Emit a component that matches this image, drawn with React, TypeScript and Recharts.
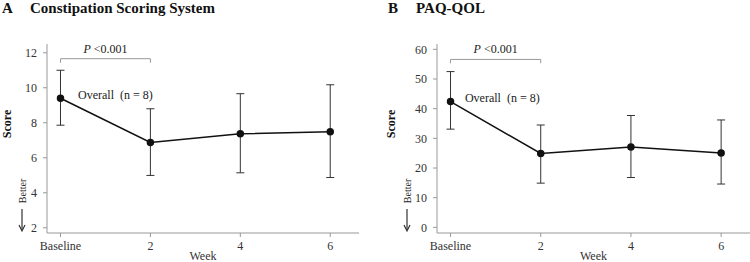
import { LineChart, Line, XAxis, YAxis, ErrorBar, ReferenceLine, ReferenceDot } from "recharts"

const FONT = '"Liberation Serif", "Times New Roman", serif'

const weeks = [0, 2, 4, 6]
const weekLabels = ["Baseline", "2", "4", "6"]

const cssMean = [9.4, 6.87, 7.37, 7.49]
const cssLow = [7.86, 4.99, 5.14, 4.87]
const cssHigh = [11.0, 8.8, 9.66, 10.17]
const cssTicks = [2, 4, 6, 8, 10, 12]

const paqMean = [42.4, 24.9, 27.1, 25.1]
const paqLow = [33.1, 14.9, 16.8, 14.6]
const paqHigh = [52.5, 34.5, 37.7, 36.2]
const paqTicks = [0, 10, 20, 30, 40, 50, 60]

const build = (mean: number[], low: number[], high: number[]) =>
    weeks.map((w, i) => ({ week: w, score: mean[i], err: [mean[i] - low[i], high[i] - mean[i]] }))

const cssData = build(cssMean, cssLow, cssHigh)
const paqData = build(paqMean, paqLow, paqHigh)

type PanelProps = {
    left: number
    letter: string
    letterX: number
    title: string
    titleX: number
    data: any[]
    domain: [number, number]
    ticks: number[]
    bracketY: number
    bracketDrop: number
    pY: number
    overall: { x: number; y: number }
    marginLeft: number
    marginRight: number
    scoreX: number
    betterX: number
    arrowX: number
}

const txt = { fontFamily: FONT }

function Panel(p: PanelProps) {
    const tickStyle = { fontSize: 12, fill: "#333", fontFamily: FONT, style: txt }
    return (
        <div style={{ position: "absolute", left: p.left, top: 0, width: 375, height: 262, fontFamily: FONT }}>
            <LineChart width={375} height={262} data={p.data} style={txt}
                margin={{ top: 44, right: p.marginRight, bottom: 0, left: p.marginLeft }}>
                <XAxis dataKey="week" type="number" domain={[-0.3, 6.64]} ticks={weeks}
                    tickFormatter={(v) => weekLabels[weeks.indexOf(v)]}
                    stroke="#999" tickSize={4} tickMargin={4} height={29} tick={tickStyle}
                    allowDataOverflow
                    label={{ value: "Week", position: "insideBottom", offset: 2, fontSize: 12, fill: "#333", fontFamily: FONT, style: txt }} />
                <YAxis type="number" domain={p.domain} ticks={p.ticks} width={30}
                    stroke="#999" tickSize={4} tickMargin={6} tick={tickStyle} allowDataOverflow />
                <ReferenceLine segment={[{ x: 0, y: p.bracketY }, { x: 2, y: p.bracketY }]} stroke="#999" ifOverflow="visible" />
                <ReferenceLine segment={[{ x: 0, y: p.bracketY }, { x: 0, y: p.bracketY - p.bracketDrop }]} stroke="#999" ifOverflow="visible" />
                <ReferenceLine segment={[{ x: 2, y: p.bracketY }, { x: 2, y: p.bracketY - p.bracketDrop }]} stroke="#999" ifOverflow="visible" />
                <ReferenceDot x={1} y={p.pY} r={0} fill="none" stroke="none" ifOverflow="visible"
                    label={{
                        content: (props: any) => (
                            <text x={props.viewBox.x} y={props.viewBox.y} dy="0.35em" textAnchor="middle"
                                fontSize={12} fill="#222" style={txt}>
                                <tspan fontStyle="italic">P</tspan> &lt;0.001
                            </text>
                        ),
                    }} />
                <ReferenceDot x={p.overall.x} y={p.overall.y} r={0} fill="none" stroke="none" ifOverflow="visible"
                    label={{
                        content: (props: any) => (
                            <text x={props.viewBox.x} y={props.viewBox.y} dy="0.35em" textAnchor="start"
                                fontSize={12} fill="#222" style={{ ...txt, whiteSpace: "pre" }}>
                                {"Overall  (n = 8)"}
                            </text>
                        ),
                    }} />
                <Line dataKey="score" stroke="#111" strokeWidth={1.5} isAnimationActive={false}
                    dot={{ r: 3, fill: "#111", stroke: "#111" }}>
                    <ErrorBar dataKey="err" direction="y" width={4} stroke="#333" strokeWidth={1} isAnimationActive={false} />
                </Line>
            </LineChart>
            <svg width={375} height={262} style={{ position: "absolute", left: 0, top: 0, pointerEvents: "none" }}>
                <text x={p.letterX} y={13} fontSize={15} fontWeight="bold" style={txt} fill="#111">{p.letter}</text>
                <text x={p.titleX} y={13} fontSize={15} fontWeight="bold" style={txt} fill="#111">{p.title}</text>
                <text transform={`translate(${p.scoreX},124) rotate(-90)`} textAnchor="middle" fontSize={12}
                    fontWeight="bold" style={txt} fill="#111">Score</text>
                <text transform={`translate(${p.betterX},191) rotate(-90)`} textAnchor="middle" fontSize={10}
                    style={txt} fill="#222">Better</text>
                <line x1={p.arrowX} y1={209} x2={p.arrowX} y2={230} stroke="#333" strokeWidth={1.2} />
                <path d={`M${p.arrowX - 3},225 L${p.arrowX},231 L${p.arrowX + 3},225`} fill="none" stroke="#333" strokeWidth={1.2} />
            </svg>
        </div>
    )
}

export default function App() {
    return (
        <div style={{ position: "absolute", left: 0, top: 0, width: 750, height: 262, background: "#fff", overflow: "hidden" }}>
            <Panel left={0} letter="A" letterX={2} title="Constipation Scoring System" titleX={30} data={cssData}
                domain={[1.7, 12.5]} ticks={cssTicks} bracketY={11.66} bracketDrop={0.23} pY={12.25}
                overall={{ x: 0.39, y: 9.62 }} marginLeft={17} marginRight={16}
                scoreX={11} betterX={26} arrowX={22} />
            <Panel left={375} letter="B" letterX={13} title="PAQ-QOL" titleX={41} data={paqData}
                domain={[-1.9, 61.8]} ticks={paqTicks} bracketY={56.6} bracketDrop={1.3} pY={60.1}
                overall={{ x: 0.32, y: 43.6 }} marginLeft={32} marginRight={0}
                scoreX={20} betterX={36} arrowX={32} />
        </div>
    )
}
